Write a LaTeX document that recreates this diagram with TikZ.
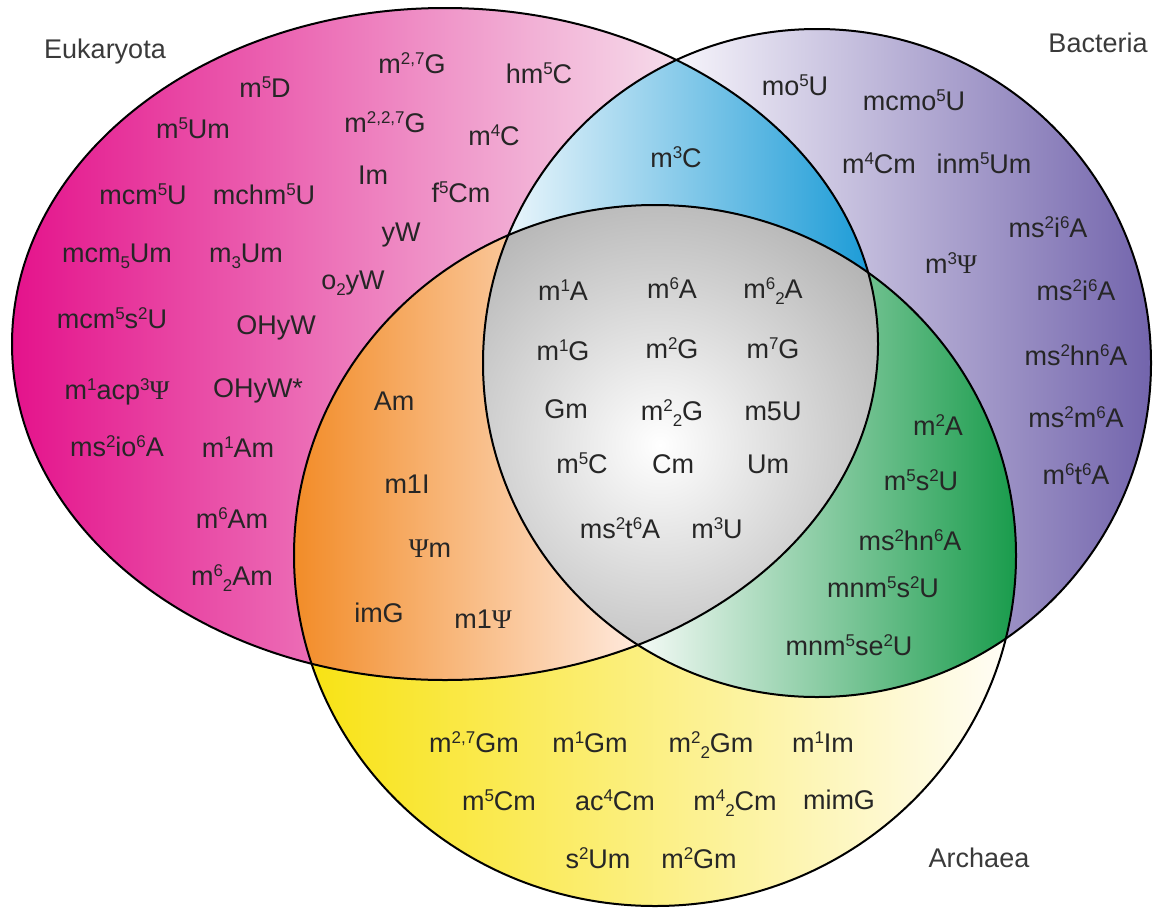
\documentclass[tikz,border=0pt]{standalone}
\usepackage{fontspec}
\setmainfont{Liberation Sans}
\newfontfamily\psifont{Liberation Serif}
\newcommand\up[1]{\raisebox{9pt}{\fontsize{17}{17}\selectfont #1}}
\newcommand\dn[1]{\raisebox{-6.5pt}{\fontsize{17}{17}\selectfont #1}}
\newcommand\Ps{{\psifont Ψ}}
\definecolor{eL}{HTML}{E4128B}
\definecolor{eR}{HTML}{F6E0EC}
\definecolor{bL}{HTML}{F5F3FA}
\definecolor{bR}{HTML}{7264AC}
\definecolor{aL}{HTML}{F8E20F}
\definecolor{aR}{HTML}{FFFDF7}
\definecolor{blL}{HTML}{E9F5FB}
\definecolor{blM}{HTML}{6EC6EB}
\definecolor{blR}{HTML}{1D9CD7}
\definecolor{oL}{HTML}{F28C28}
\definecolor{oR}{HTML}{FFEBE0}
\definecolor{gL}{HTML}{F4FAF6}
\definecolor{gM}{HTML}{7CC496}
\definecolor{gR}{HTML}{189B4B}
\definecolor{grayO}{HTML}{828282}
\definecolor{txt}{HTML}{262626}
\definecolor{lab}{HTML}{3A3A3A}
\begin{document}
\begin{tikzpicture}[x=1pt,y=-1pt,
  t/.style={anchor=base, yshift=-10pt, inner sep=0pt, text=txt, font=\fontsize{27}{30}\selectfont},
  lbl/.style={t, text=lab},
  outline/.style={draw=black, line width=2pt}]
\useasboundingbox (0,0) rectangle (1153,911);
\coordinate (cE) at (445,344);
\coordinate (cB) at (817,363);
\coordinate (cA) at (655,555.5);
% single regions
\begin{scope}
  \clip (cE) ellipse [x radius=433pt, y radius=336pt];
  \shade[left color=eL, right color=eR] (10,0) rectangle (690,700);
\end{scope}
\begin{scope}
  \clip (cB) circle [radius=334pt];
  \shade[left color=bL, right color=bR] (680,20) rectangle (1153,710);
\end{scope}
\begin{scope}
  \clip (cA) ellipse [x radius=361pt, y radius=350.5pt];
  \shade[left color=aL, right color=aR] (294,200) rectangle (1010,911);
\end{scope}
% pairwise
\begin{scope}
  \clip (cE) ellipse [x radius=433pt, y radius=336pt];
  \clip (cB) circle [radius=334pt];
  \shade[left color=blL, middle color=blM, right color=blR] (508,50) rectangle (868,300);
\end{scope}
\begin{scope}
  \clip (cE) ellipse [x radius=433pt, y radius=336pt];
  \clip (cA) ellipse [x radius=361pt, y radius=350.5pt];
  \shade[left color=oL, right color=oR] (294,200) rectangle (645,700);
\end{scope}
\begin{scope}
  \clip (cB) circle [radius=334pt];
  \clip (cA) ellipse [x radius=361pt, y radius=350.5pt];
  \shade[left color=gL, middle color=gM, right color=gR] (638,200) rectangle (1018,710);
\end{scope}
% triple
\begin{scope}
  \clip (cE) ellipse [x radius=433pt, y radius=336pt];
  \clip (cB) circle [radius=334pt];
  \clip (cA) ellipse [x radius=361pt, y radius=350.5pt];
  \shade[inner color=white, outer color=grayO] (660,445) circle [radius=450pt];
\end{scope}
% outlines
\draw[outline] (cE) ellipse [x radius=433pt, y radius=336pt];
\draw[outline] (cB) circle [radius=334pt];
\draw[outline] (cA) ellipse [x radius=361pt, y radius=350.5pt];
% labels
\node[lbl] (lE) at (105,48) {Eukaryota};
\node[lbl] (lB) at (1098,42) {Bacteria};
\node[lbl] (lA) at (979,857) {Archaea};
% Eukaryota only
\node[t] (e1) at (265,87) {m\up{5}D};
\node[t] (e2) at (412,63) {m\up{2,7}G};
\node[t] (e3) at (539,73) {hm\up{5}C};
\node[t] (e4) at (193,128) {m\up{5}Um};
\node[t] (e5) at (385,122) {m\up{2,2,7}G};
\node[t] (e6) at (494,135) {m\up{4}C};
\node[t] (e7) at (373,174) {Im};
\node[t] (e8) at (461,192) {f\up{5}Cm};
\node[t] (e9) at (143,194) {mcm\up{5}U};
\node[t] (e10) at (264,194) {mchm\up{5}U};
\node[t] (e11) at (401,231) {yW};
\node[t] (e12) at (117,252) {mcm\dn{5}Um};
\node[t] (e13) at (246,252) {m\dn{3}Um};
\node[t] (e14) at (353,279) {o\dn{2}yW};
\node[t] (e15) at (112,318) {mcm\up{5}s\up{2}U};
\node[t] (e16) at (276,324) {OHyW};
\node[t] (e17) at (117,389) {m\up{1}acp\up{3}\Ps};
\node[t] (e18) at (258,387) {OHyW*};
\node[t] (e19) at (117,446) {ms\up{2}io\up{6}A};
\node[t] (e20) at (238,447) {m\up{1}Am};
\node[t] (e21) at (232,518) {m\up{6}Am};
\node[t] (e22) at (232,575) {m\up{6}\dn{2}Am};
% Eukaryota & Bacteria
\node[t] (b0) at (676,157) {m\up{3}C};
% Bacteria only
\node[t] (b1) at (795,85) {mo\up{5}U};
\node[t] (b2) at (914,100) {mcmo\up{5}U};
\node[t] (b3) at (879,163) {m\up{4}Cm};
\node[t] (b4) at (984,163) {inm\up{5}Um};
\node[t] (b5) at (1048,227) {ms\up{2}i\up{6}A};
\node[t] (b6) at (951,263) {m\up{3}\Ps};
\node[t] (b7) at (1076,290) {ms\up{2}i\up{6}A};
\node[t] (b8) at (1076,355) {ms\up{2}hn\up{6}A};
\node[t] (b9) at (1076,417) {ms\up{2}m\up{6}A};
\node[t] (b10) at (1076,474) {m\up{6}t\up{6}A};
% all three
\node[t] (c1) at (563,290) {m\up{1}A};
\node[t] (c2) at (672,288) {m\up{6}A};
\node[t] (c3) at (773,288) {m\up{6}\dn{2}A};
\node[t] (c4) at (563,350) {m\up{1}G};
\node[t] (c5) at (672,348) {m\up{2}G};
\node[t] (c6) at (773,348) {m\up{7}G};
\node[t] (c7) at (566,408) {Gm};
\node[t] (c8) at (672,410) {m\up{2}\dn{2}G};
\node[t] (c9) at (773,410) {m5U};
\node[t] (c10) at (582,463) {m\up{5}C};
\node[t] (c11) at (673,463) {Cm};
\node[t] (c12) at (768,463) {Um};
\node[t] (c13) at (620,528) {ms\up{2}t\up{6}A};
\node[t] (c14) at (717,528) {m\up{3}U};
% Eukaryota & Archaea
\node[t] (o1) at (394,400) {Am};
\node[t] (o2) at (407,483) {m1I};
\node[t] (o3) at (430,547) {\Ps m};
\node[t] (o4) at (379,612) {imG};
\node[t] (o5) at (483,618) {m1\Ps};
% Bacteria & Archaea
\node[t] (g1) at (938,425) {m\up{2}A};
\node[t] (g2) at (921,480) {m\up{5}s\up{2}U};
\node[t] (g3) at (910,540) {ms\up{2}hn\up{6}A};
\node[t] (g4) at (883,587) {mnm\up{5}s\up{2}U};
\node[t] (g5) at (849,645) {mnm\up{5}se\up{2}U};
% Archaea only
\node[t] (y1) at (474,742) {m\up{2,7}Gm};
\node[t] (y2) at (590,742) {m\up{1}Gm};
\node[t] (y3) at (711,742) {m\up{2}\dn{2}Gm};
\node[t] (y4) at (823,742) {m\up{1}Im};
\node[t] (y5) at (499,800) {m\up{5}Cm};
\node[t] (y6) at (615,800) {ac\up{4}Cm};
\node[t] (y7) at (735,800) {m\up{4}\dn{2}Cm};
\node[t] (y8) at (839,799) {mimG};
\node[t] (y9) at (598,858) {s\up{2}Um};
\node[t] (y10) at (699,858) {m\up{2}Gm};
\end{tikzpicture}
\end{document}
